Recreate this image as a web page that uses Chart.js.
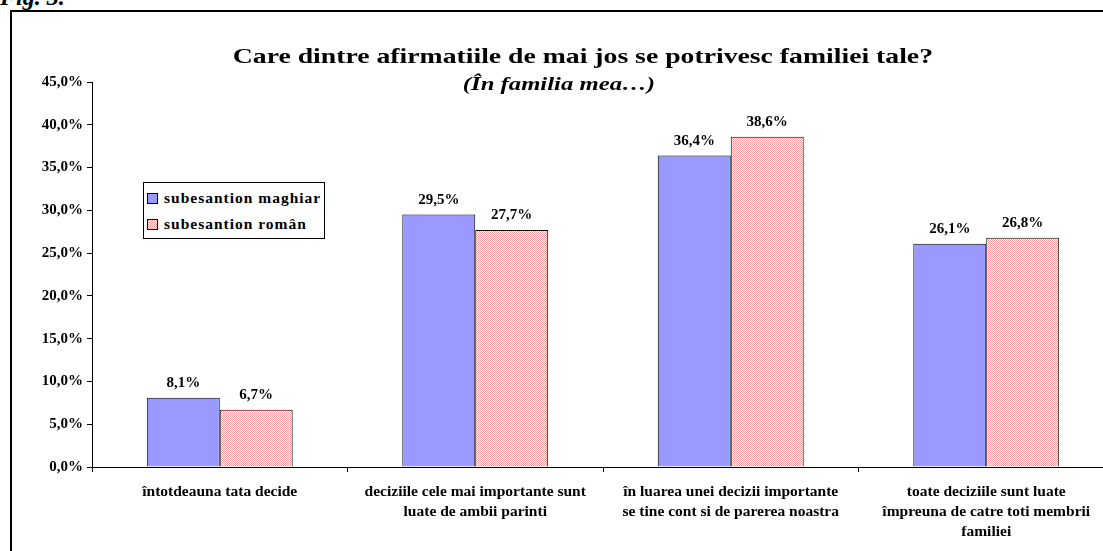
<!DOCTYPE html>
<html>
<head>
<meta charset="utf-8">
<script src="https://cdn.jsdelivr.net/npm/chart.js@4/dist/chart.umd.min.js"></script>
<style>
  html, body { margin: 0; padding: 0; background: #fff; width: 1103px; height: 551px; overflow: hidden; }
  body { position: relative; font-family: "Liberation Serif", serif; color: #000; }
  .fig { position: absolute; left: 0; top: -15px; font: italic bold 24px "Liberation Serif"; line-height: 24px; }
  .frame { position: absolute; left: 10px; top: 10px; width: 1160px; height: 600px; border: 2px solid #000; }
  #chart { position: absolute; left: 0; top: 0; }
  .title { position: absolute; left: 0; width: 1166px; text-align: center; white-space: nowrap; }
  .title span { display: inline-block; transform-origin: center; }
  .t1 { top: 43px; font-weight: bold; font-size: 22px; line-height: 26px; }
  .t1 span { transform: scaleX(1.26); }
  .t2 { top: 73px; left: -24px; font-weight: bold; font-style: italic; font-size: 19px; line-height: 22px; }
  .t2 span { transform: scaleX(1.3); }
  .legend { position: absolute; left: 143px; top: 182px; width: 180px; height: 55px; border: 1px solid #000; background: #fff; }
  .legend .row { position: absolute; left: 3px; height: 20px; line-height: 20px; font-weight: bold; font-size: 15.5px; letter-spacing: 1px; white-space: nowrap; }
  .legend .sw { display: inline-block; width: 9px; height: 9px; border: 1px solid #000; margin-right: 6px; vertical-align: -1px; }
</style>
</head>
<body>
<div class="fig">Fig. 3.</div>
<div class="frame">
  <canvas id="chart" width="1140" height="560"></canvas>
</div>
<div class="title t1"><span>Care dintre afirmatiile de mai jos se potrivesc familiei tale?</span></div>
<div class="title t2"><span>(În familia mea…)</span></div>
<div class="legend" id="legend"></div>
<script>
// categories (x labels, split into lines as in the original)
const categories = [
  "întotdeauna tata decide",
  ["deciziile cele mai importante sunt", "luate de ambii parinti"],
  ["în luarea unei decizii importante", "se tine cont si de parerea noastra"],
  ["toate deciziile sunt luate", "împreuna de catre toti membrii", "familiei"]
];
const seriesNames = ["subesantion maghiar", "subesantion român"];
const maghiar = [8.1, 29.5, 36.4, 26.1];
const roman = [6.7, 27.7, 38.6, 26.8];
const yTicks = [0, 5, 10, 15, 20, 25, 30, 35, 40, 45];

const blue = "#9999ff";

// small pink/white checker like the excel fill
const patCanvas = document.createElement("canvas");
patCanvas.width = 2; patCanvas.height = 2;
(function () {
  const g = patCanvas.getContext("2d");
  g.fillStyle = "#fff";
  g.fillRect(0, 0, 2, 2);
  g.fillStyle = "#ffa0a0";
  g.fillRect(0, 0, 1, 1);
  g.fillRect(1, 1, 1, 1);
})();
const pinkFill = patCanvas.getContext("2d").createPattern(patCanvas, "repeat");

const fmt = v => v.toFixed(1).replace(".", ",") + "%";

// legend (html box like the excel one)
const legendEl = document.getElementById("legend");
seriesNames.forEach((name, i) => {
  const row = document.createElement("div");
  row.className = "row";
  row.style.top = (5 + i * 26) + "px";
  const sw = document.createElement("span");
  sw.className = "sw";
  if (i === 0) sw.style.background = blue;
  else sw.style.background = "url(" + patCanvas.toDataURL() + ") repeat";
  row.appendChild(sw);
  row.appendChild(document.createTextNode(name));
  legendEl.appendChild(row);
});

// value labels above the bars
const barValueLabels = {
  id: "barValueLabels",
  afterDatasetsDraw(chart) {
    const ctx = chart.ctx;
    ctx.save();
    ctx.font = 'bold 15px "Liberation Serif"';
    ctx.fillStyle = "#000";
    ctx.textAlign = "center";
    ctx.textBaseline = "bottom";
    chart.data.datasets.forEach((ds, i) => {
      chart.getDatasetMeta(i).data.forEach((bar, j) => {
        ctx.fillText(fmt(ds.data[j]), bar.x, bar.y - 7);
      });
    });
    ctx.restore();
  }
};

const tickFont = { family: "Liberation Serif", weight: "bold", size: 15 };

new Chart(document.getElementById("chart"), {
  type: "bar",
  data: {
    labels: categories,
    datasets: [
      { label: seriesNames[0], data: maghiar, backgroundColor: blue, borderColor: "#000", borderWidth: 1 },
      { label: seriesNames[1], data: roman, backgroundColor: pinkFill, borderColor: "#000", borderWidth: 1 }
    ]
  },
  options: {
    responsive: false,
    animation: false,
    layout: { padding: { top: 70, right: 38, left: 0, bottom: 5 } },
    datasets: { bar: { categoryPercentage: 0.571, barPercentage: 1 } },
    plugins: { legend: { display: false }, tooltip: { enabled: false } },
    scales: {
      x: {
        grid: { offset: true, drawOnChartArea: false, color: "#000", tickLength: 5 },
        border: { color: "#000" },
        ticks: { color: "#000", font: { ...tickFont, size: 15.5, lineHeight: 1.3 }, maxRotation: 0, autoSkip: false, padding: 10 },
        afterFit(s) { s.height = 100; }
      },
      y: {
        min: 0,
        max: 45,
        afterBuildTicks(s) { s.ticks = yTicks.map(v => ({ value: v })); },
        grid: { drawOnChartArea: false, color: "#000", tickLength: 5 },
        border: { color: "#000" },
        ticks: { color: "#000", font: tickFont, padding: 4, callback: v => fmt(v) },
        afterFit(s) { s.width = 80; }
      }
    }
  },
  plugins: [barValueLabels]
});
</script>
</body>
</html>
